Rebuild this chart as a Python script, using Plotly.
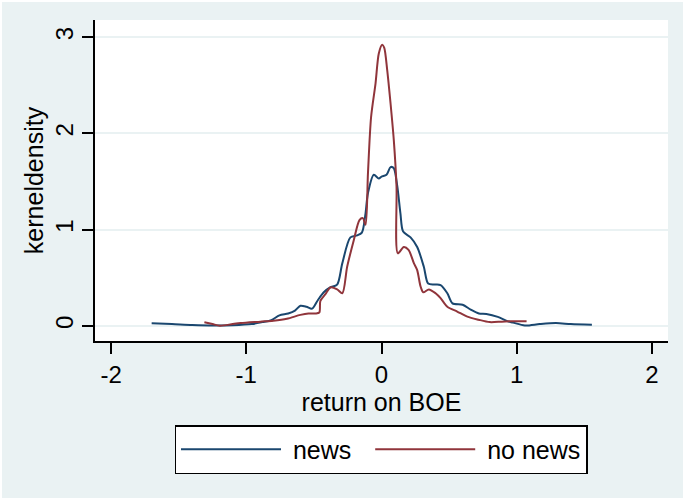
import plotly.graph_objects as go

# Kernel density estimates of the BOE return, split by news days
news_x = [-1.70, -1.55, -1.40, -1.24, -1.10, -0.96, -0.88, -0.815, -0.755, -0.69,
          -0.64, -0.60, -0.555, -0.513, -0.47, -0.427, -0.38, -0.328, -0.29, -0.23,
          -0.18, -0.145, -0.12, -0.10, -0.057, -0.02, 0.0, 0.037, 0.067, 0.09,
          0.116, 0.14, 0.16, 0.215, 0.264, 0.313, 0.345, 0.39, 0.437, 0.487,
          0.525, 0.60, 0.66, 0.72, 0.776, 0.86, 0.93, 0.973, 1.06, 1.17,
          1.29, 1.40, 1.556]
news_y = [0.028, 0.02, 0.01, 0.005, 0.008, 0.02, 0.04, 0.06, 0.11, 0.13,
          0.16, 0.21, 0.20, 0.18, 0.27, 0.35, 0.40, 0.43, 0.65, 0.92,
          0.94, 0.97, 1.15, 1.38, 1.57, 1.53, 1.55, 1.57, 1.65, 1.64,
          1.46, 1.17, 0.98, 0.92, 0.82, 0.615, 0.44, 0.43, 0.425, 0.34,
          0.235, 0.22, 0.17, 0.13, 0.125, 0.095, 0.05, 0.035, 0.005, 0.02,
          0.03, 0.02, 0.012]

nonews_x = [-1.31, -1.25, -1.195, -1.10, -1.04, -0.896, -0.80, -0.70, -0.60, -0.54,
            -0.489, -0.46, -0.452, -0.415, -0.378, -0.328, -0.29, -0.254, -0.205, -0.163,
            -0.138, -0.118, -0.10, -0.077, -0.044, -0.02, 0.005, 0.02, 0.042, 0.067,
            0.091, 0.111, 0.121, 0.165, 0.20, 0.24, 0.264, 0.289, 0.309, 0.35,
            0.40, 0.437, 0.487, 0.56, 0.635, 0.718, 0.80, 0.89, 0.973, 1.073]
nonews_y = [0.038, 0.02, 0.003, 0.02, 0.03, 0.045, 0.055, 0.075, 0.115, 0.13,
            0.13, 0.14, 0.26, 0.33, 0.40, 0.38, 0.34, 0.615, 0.89, 1.10,
            1.12, 1.05, 1.59, 2.17, 2.52, 2.83, 2.92, 2.89, 2.66, 2.31,
            1.93, 1.45, 0.755, 0.82, 0.79, 0.65, 0.58, 0.41, 0.35, 0.38,
            0.34, 0.29, 0.20, 0.15, 0.097, 0.065, 0.04, 0.045, 0.05, 0.048]

x_ticks = [-2, -1, 0, 1, 2]
x_tick_labels = ["-2", "-1", "0", "1", "2"]
y_ticks = [0, 1, 2, 3]
y_tick_labels = ["0", "1", "2", "3"]

NAVY = "#1a476f"
MAROON = "#90353b"
BG = "#eaf2f3"
FONT = "Liberation Sans, Arial, sans-serif"
FS_TICK = 24
FS_TEXT = 25
NBSP = "\u00a0"

fig = go.Figure()
fig.add_trace(go.Scatter(x=news_x, y=news_y, mode="lines", name=NBSP + "news" + NBSP * 2,
                         line=dict(color=NAVY, width=2, shape="spline", smoothing=0.8)))
fig.add_trace(go.Scatter(x=nonews_x, y=nonews_y, mode="lines", name=NBSP + "no news",
                         line=dict(color=MAROON, width=2, shape="spline", smoothing=0.8)))

W, H = 685, 500
ml, mr, mt, mb = 95, 17, 20, 159
pw, ph = W - ml - mr, H - mt - mb

def px_x(p):
    return (p - ml) / pw

def px_y(p):
    return (H - mb - p) / ph

fig.update_layout(
    width=W, height=H,
    margin=dict(l=ml, r=mr, t=mt, b=mb, pad=0),
    paper_bgcolor="white",
    plot_bgcolor="white",
    font=dict(family=FONT, color="black", size=FS_TEXT),
    shapes=[
        dict(type="rect", xref="paper", yref="paper", layer="below",
             x0=px_x(2), x1=px_x(683), y0=px_y(498), y1=px_y(2),
             fillcolor=BG, line=dict(width=0)),
        dict(type="rect", xref="paper", yref="paper", layer="below",
             x0=0, x1=1, y0=0, y1=1, fillcolor="white", line=dict(width=0)),
    ],
    xaxis=dict(
        range=[-2.119, 2.119], tickvals=x_ticks, ticktext=x_tick_labels,
        ticks="outside", ticklen=11,
        tickwidth=1.5, tickcolor="black", showline=True, linecolor="black",
        linewidth=1.5, showgrid=False, zeroline=False, ticklabelstandoff=0,
        tickfont=dict(size=FS_TICK),
        title=dict(text="return on BOE", font=dict(size=FS_TEXT), standoff=0),
    ),
    yaxis=dict(
        range=[-0.156, 3.177], tickvals=y_ticks, ticktext=y_tick_labels,
        ticks="outside", ticklen=11,
        tickwidth=1.5, tickcolor="black", showline=True, linecolor="black",
        linewidth=1.5, showgrid=True, gridcolor=BG, gridwidth=1.5, zeroline=False,
        tickangle=-90, ticklabelstandoff=0, tickfont=dict(size=FS_TICK),
        title=dict(text="kerneldensity", font=dict(size=FS_TEXT), standoff=0),
    ),
    legend=dict(
        orientation="h", x=px_x(381), xanchor="center", y=px_y(425), yanchor="top",
        bgcolor="white", bordercolor="black", borderwidth=1.5,
        font=dict(size=FS_TEXT), itemwidth=100, traceorder="normal",
    ),
    showlegend=True,
)

fig.write_html("out.html")
